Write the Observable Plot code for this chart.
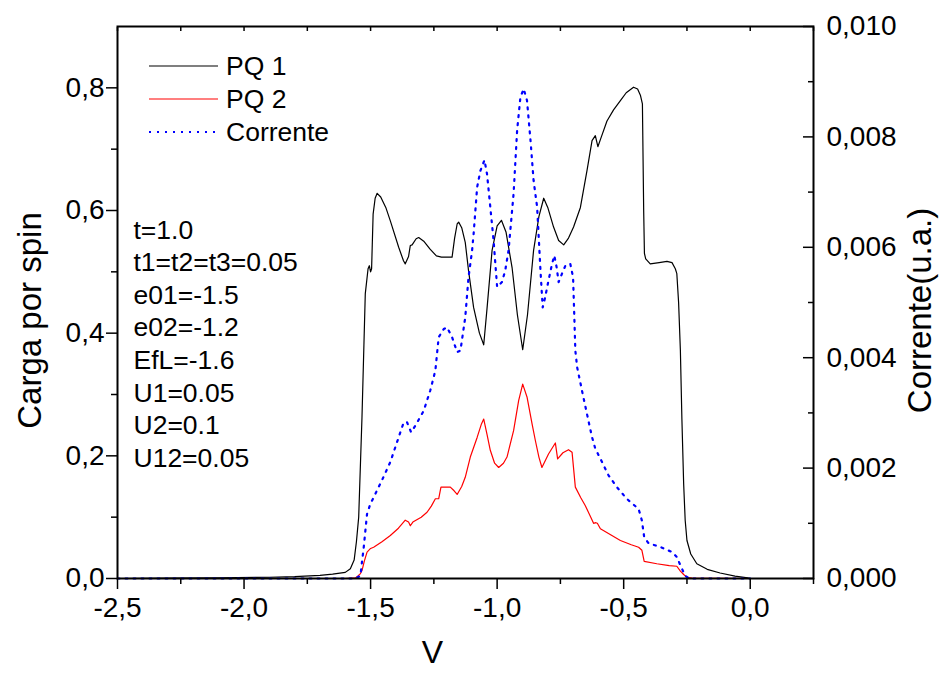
<!DOCTYPE html>
<html>
<head>
<meta charset="utf-8">
<script src="https://cdn.jsdelivr.net/npm/d3@7"></script>
<script src="https://cdn.jsdelivr.net/npm/@observablehq/plot@0.6"></script>
<style>
  html, body { margin: 0; padding: 0; background: #fff; }
  #chart { width: 943px; height: 677px; }
</style>
</head>
<body>
<div id="chart"></div>
<script>
// ---- data ----
const pq1V = [-2.5,-2.3,-2.1,-1.9,-1.8,-1.7,-1.65,-1.6,-1.58,-1.565,-1.556,-1.547,-1.534,-1.521,-1.510,-1.505,-1.500,-1.496,-1.490,-1.482,-1.474,-1.460,-1.440,-1.422,-1.389,-1.370,-1.363,-1.350,-1.343,-1.336,-1.320,-1.310,-1.290,-1.265,-1.240,-1.220,-1.178,-1.168,-1.158,-1.152,-1.140,-1.126,-1.113,-1.093,-1.070,-1.053,-1.040,-1.020,-1.000,-0.983,-0.965,-0.941,-0.920,-0.899,-0.880,-0.856,-0.835,-0.816,-0.800,-0.777,-0.757,-0.737,-0.718,-0.698,-0.671,-0.645,-0.625,-0.612,-0.602,-0.590,-0.566,-0.540,-0.513,-0.490,-0.461,-0.445,-0.434,-0.426,-0.421,-0.418,-0.413,-0.395,-0.360,-0.329,-0.309,-0.296,-0.290,-0.283,-0.276,-0.270,-0.263,-0.257,-0.250,-0.235,-0.211,-0.170,-0.119,-0.060,-0.010,0.0];
const pq1Q = [0,0.0005,0.001,0.002,0.003,0.005,0.007,0.010,0.016,0.030,0.060,0.100,0.263,0.464,0.505,0.510,0.500,0.505,0.594,0.620,0.628,0.622,0.605,0.583,0.540,0.518,0.513,0.525,0.543,0.544,0.554,0.556,0.550,0.537,0.526,0.524,0.524,0.555,0.578,0.581,0.572,0.548,0.502,0.442,0.400,0.381,0.440,0.535,0.575,0.584,0.565,0.507,0.430,0.373,0.430,0.535,0.590,0.620,0.605,0.573,0.551,0.544,0.555,0.573,0.605,0.665,0.714,0.722,0.704,0.718,0.746,0.764,0.779,0.792,0.801,0.798,0.788,0.774,0.600,0.530,0.521,0.513,0.515,0.517,0.515,0.505,0.497,0.450,0.372,0.260,0.154,0.095,0.062,0.040,0.024,0.015,0.009,0.004,0.001,0];

const pq2V = [-2.5,-1.60,-1.56,-1.550,-1.540,-1.534,-1.525,-1.514,-1.500,-1.488,-1.455,-1.422,-1.390,-1.363,-1.350,-1.343,-1.333,-1.300,-1.277,-1.260,-1.244,-1.231,-1.222,-1.185,-1.170,-1.158,-1.140,-1.126,-1.106,-1.079,-1.062,-1.053,-1.040,-1.027,-1.010,-0.994,-0.975,-0.961,-0.935,-0.915,-0.899,-0.882,-0.862,-0.849,-0.835,-0.823,-0.797,-0.770,-0.761,-0.740,-0.718,-0.704,-0.691,-0.670,-0.652,-0.630,-0.619,-0.610,-0.604,-0.592,-0.550,-0.513,-0.470,-0.441,-0.428,-0.419,-0.369,-0.320,-0.290,-0.276,-0.263,-0.250,-0.230,0.0];
const pq2Q = [0,0,0.001,0.004,0.008,0.013,0.028,0.043,0.049,0.051,0.060,0.070,0.082,0.095,0.092,0.086,0.092,0.100,0.108,0.118,0.130,0.130,0.149,0.149,0.143,0.137,0.150,0.165,0.198,0.230,0.252,0.260,0.235,0.209,0.188,0.181,0.188,0.198,0.241,0.290,0.317,0.296,0.252,0.225,0.198,0.181,0.203,0.221,0.195,0.205,0.210,0.206,0.149,0.132,0.119,0.100,0.090,0.091,0.090,0.081,0.071,0.062,0.055,0.051,0.046,0.028,0.024,0.021,0.020,0.012,0.0065,0.002,0.0005,0];

const curV = [-2.5,-1.56,-1.540,-1.534,-1.527,-1.514,-1.501,-1.488,-1.455,-1.422,-1.389,-1.369,-1.356,-1.340,-1.323,-1.290,-1.264,-1.244,-1.231,-1.211,-1.198,-1.178,-1.158,-1.145,-1.126,-1.113,-1.099,-1.093,-1.079,-1.066,-1.050,-1.040,-1.027,-1.014,-1.000,-0.981,-0.968,-0.955,-0.935,-0.921,-0.908,-0.895,-0.882,-0.868,-0.856,-0.842,-0.829,-0.820,-0.810,-0.797,-0.783,-0.774,-0.765,-0.757,-0.744,-0.730,-0.711,-0.700,-0.695,-0.691,-0.684,-0.665,-0.645,-0.625,-0.612,-0.592,-0.560,-0.526,-0.487,-0.441,-0.428,-0.419,-0.402,-0.355,-0.309,-0.290,-0.276,-0.257,-0.240,0.0];
const curI = [0,0,0.00005,0.0003,0.00057,0.00117,0.00135,0.00147,0.00178,0.00211,0.00256,0.00283,0.00283,0.00265,0.00277,0.00304,0.00341,0.00377,0.00437,0.00452,0.00455,0.00437,0.00410,0.00413,0.00473,0.00546,0.00594,0.00624,0.00709,0.00739,0.00758,0.00733,0.00673,0.00612,0.00528,0.00537,0.00558,0.00594,0.00697,0.00812,0.00872,0.00887,0.00866,0.00793,0.00721,0.00673,0.00560,0.00491,0.00510,0.00540,0.00570,0.00585,0.00564,0.00537,0.00552,0.00567,0.00570,0.00546,0.00473,0.00413,0.00383,0.00341,0.00298,0.00256,0.00235,0.00217,0.00187,0.00165,0.00144,0.00126,0.00105,0.00075,0.00064,0.00057,0.00048,0.00039,0.00024,0.00005,0,0];

const xMajor = [-2.5,-2.0,-1.5,-1.0,-0.5,0.0];
const xMinor = [-2.25,-1.75,-1.25,-0.75,-0.25,0.25];
const yMajor = [0,0.2,0.4,0.6,0.8];
const yMinor = [0.1,0.3,0.5,0.7,0.9];
const iMajor = [0,0.002,0.004,0.006,0.008,0.010];
const iMinor = [0.001,0.003,0.005,0.007,0.009];

const seriesNames = ["PQ 1","PQ 2","Corrente"];
const params = ["t=1.0","t1=t2=t3=0.05","e01=-1.5","e02=-1.2","EfL=-1.6","U1=0.05","U2=0.1","U12=0.05"];
const xTitle = "V";
const yTitle = "Carga por spin";
const y2Title = "Corrente(u.a.)";

// ---- build ----
const qMax = 0.9, iMax = 0.010;
const k = qMax / iMax;  // current -> left-axis units
const pq1 = pq1V.map((v,i)=>({v, q: pq1Q[i]}));
const pq2 = pq2V.map((v,i)=>({v, q: pq2Q[i]}));
const cur = curV.map((v,i)=>({v, q: curI[i]*k}));
const comma = (d, n) => d.toFixed(n).replace(".", ",");
const FONT = "'Liberation Sans', Arial, sans-serif";
const TICKFS = 28;

const plot = Plot.plot({
  width: 943, height: 677,
  marginLeft: 117, marginRight: 130, marginTop: 26, marginBottom: 99,
  x: {domain: [-2.5, 0.25]},
  y: {domain: [0, qMax]},
  style: {fontFamily: FONT, background: "white", color: "black"},
  marks: [
    Plot.line(pq1, {x: "v", y: "q", stroke: "black", strokeWidth: 1.2}),
    Plot.line(pq2, {x: "v", y: "q", stroke: "#ff0000", strokeWidth: 1.2}),
    Plot.line(cur, {x: "v", y: "q", stroke: "#0000ff", strokeWidth: 2.2, strokeDasharray: "2,6"}),
    // bottom axis
    Plot.axisX(xMajor, {anchor: "bottom", tickSize: 11, tickPadding: 8, strokeWidth: 1.5, fontSize: TICKFS, label: null, tickFormat: d => comma(d,1)}),
    Plot.axisX(xMinor, {anchor: "bottom", tickSize: 6, strokeWidth: 1.5, label: null, tickFormat: () => ""}),
    // top ticks (inward)
    Plot.axisX(xMajor.concat(xMinor), {anchor: "top", tickSize: -4, strokeWidth: 1.5, label: null, tickFormat: () => ""}),
    // left axis
    Plot.axisY(yMajor, {anchor: "left", tickSize: 11, tickPadding: 2, strokeWidth: 1.5, fontSize: TICKFS, label: null, tickFormat: d => comma(d,1)}),
    Plot.axisY(yMinor.slice(0,4), {anchor: "left", tickSize: 6, strokeWidth: 1.5, label: null, tickFormat: () => ""}),
    // right axis (ticks inward)
    Plot.axisY(iMajor.map(d => d*k), {anchor: "right", tickSize: -11, strokeWidth: 1.5, label: null, tickFormat: () => ""}),
    Plot.axisY(iMinor.map(d => d*k), {anchor: "right", tickSize: -6, strokeWidth: 1.5, label: null, tickFormat: () => ""}),
    Plot.axisY(iMajor.map(d => d*k), {anchor: "right", tickSize: 0, tickPadding: 13, fontSize: TICKFS, label: null, tickFormat: d => comma(d/k,3)}),
    Plot.frame({strokeWidth: 2}),
    // titles
    Plot.text([xTitle], {text: d => d, frameAnchor: "bottom", textAnchor: "middle", dx: -33, dy: 84, fontSize: 32}),
    Plot.text([yTitle], {text: d => d, frameAnchor: "left", textAnchor: "middle", rotate: -90, dx: -87, dy: 18, fontSize: 33}),
    Plot.text([y2Title], {text: d => d, frameAnchor: "right", textAnchor: "middle", rotate: -90, dx: 107, dy: 8, fontSize: 33}),
    // parameters
    Plot.text([params.join("\n")], {text: d => d, frameAnchor: "top-left", dx: 16, dy: 189, textAnchor: "start", lineAnchor: "top", lineHeight: 1.23, fontSize: 26.5})
  ]
});
document.getElementById("chart").appendChild(plot);

// legend
const svg = d3.select(plot);
const leg = svg.append("g").attr("font-family", FONT).attr("font-size", 26.5).attr("text-anchor", "start");
const legStyles = [
  {stroke: "black", width: 1.2, dash: null},
  {stroke: "#ff0000", width: 1.2, dash: null},
  {stroke: "#0000ff", width: 2.2, dash: "2,6"}
];
seriesNames.forEach((name, i) => {
  const y = 66 + i * 33;
  const s = legStyles[i];
  const ln = leg.append("line").attr("x1", 149).attr("x2", 218).attr("y1", y).attr("y2", y)
    .attr("stroke", s.stroke).attr("stroke-width", s.width);
  if (s.dash) ln.attr("stroke-dasharray", s.dash);
  leg.append("text").attr("x", 226).attr("y", y).attr("dy", "0.35em").attr("text-anchor", "start").attr("fill", "black").text(name);
});
</script>
</body>
</html>
